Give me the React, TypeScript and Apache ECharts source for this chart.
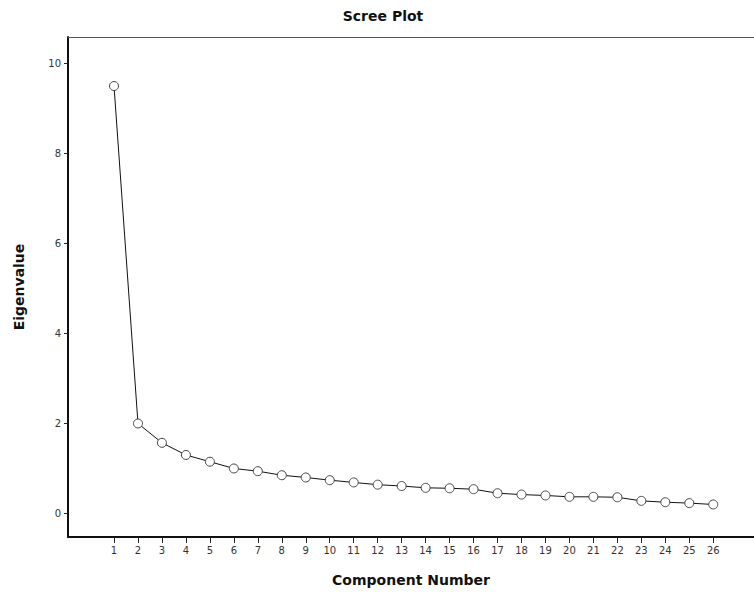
import React, { useEffect, useRef } from "react";
import * as echarts from "echarts";

const components = [1, 2, 3, 4, 5, 6, 7, 8, 9, 10, 11, 12, 13, 14, 15, 16, 17, 18, 19, 20, 21, 22, 23, 24, 25, 26];
const eigenvalues = [9.49, 1.99, 1.56, 1.29, 1.14, 0.99, 0.93, 0.84, 0.79, 0.73, 0.68, 0.63, 0.6, 0.56, 0.55, 0.53, 0.44, 0.41, 0.39, 0.36, 0.36, 0.35, 0.27, 0.24, 0.22, 0.19];
const yTicks = [0, 2, 4, 6, 8, 10];

export default function App() {
  const ref = useRef<HTMLDivElement>(null);
  useEffect(() => {
    document.body.style.margin = "0";
    if (!ref.current) return;
    const chart = echarts.init(ref.current, null, { renderer: "svg" });
    const font = "DejaVu Sans";
    chart.setOption({
      animation: false,
      backgroundColor: "#ffffff",
      title: {
        text: "Scree Plot",
        left: 378,
        top: 4,
        textAlign: "center",
        textStyle: { fontFamily: font, fontSize: 14, fontWeight: "bold", color: "#111" },
      },
      grid: {
        left: 68,
        top: 37,
        right: 0,
        bottom: 55,
        show: false,
      },
      xAxis: [
        {
          type: "value",
          min: -0.92,
          max: 27.7,
          name: "Component Number",
          nameLocation: "middle",
          nameGap: 36,
          nameTextStyle: { fontFamily: font, fontSize: 14, fontWeight: "bold", color: "#111" },
          splitLine: { show: false },
          axisLine: { show: true, onZero: false, lineStyle: { color: "#111", width: 2 } },
          axisTick: { show: true, customValues: components, length: 6, lineStyle: { color: "#222", width: 1 } },
          axisLabel: {
            customValues: components,
            fontFamily: font,
            fontSize: 10,
            color: "#333",
            margin: 8,
          },
        },
        {
          type: "value",
          position: "top",
          min: -0.92,
          max: 27.7,
          splitLine: { show: false },
          axisLine: { show: true, onZero: false, lineStyle: { color: "#555", width: 1 } },
          axisTick: { show: false },
          axisLabel: { show: false },
        },
      ],
      yAxis: {
        type: "value",
        min: -0.533,
        max: 10.58,
        name: "Eigenvalue",
        nameLocation: "middle",
        nameGap: 42,
        nameRotate: 90,
        nameTextStyle: { fontFamily: font, fontSize: 14, fontWeight: "bold", color: "#111" },
        splitLine: { show: false },
        axisLine: { show: true, onZero: false, lineStyle: { color: "#111", width: 2 } },
        axisTick: { show: true, customValues: yTicks, length: 4, lineStyle: { color: "#222", width: 1 } },
        axisLabel: {
          customValues: yTicks,
          fontFamily: font,
          fontSize: 10,
          color: "#333",
          margin: 7,
        },
      },
      series: [
        {
          type: "line",
          xAxisIndex: 0,
          data: components.map((c, i) => [c, eigenvalues[i]]),
          symbol: "circle",
          symbolSize: 9,
          showAllSymbol: true,
          lineStyle: { color: "#111", width: 1 },
          itemStyle: { color: "#ffffff", borderColor: "#444", borderWidth: 1 },
        },
      ],
    });
    return () => chart.dispose();
  }, []);
  return <div ref={ref} style={{ width: 754, height: 592 }} />;
}
